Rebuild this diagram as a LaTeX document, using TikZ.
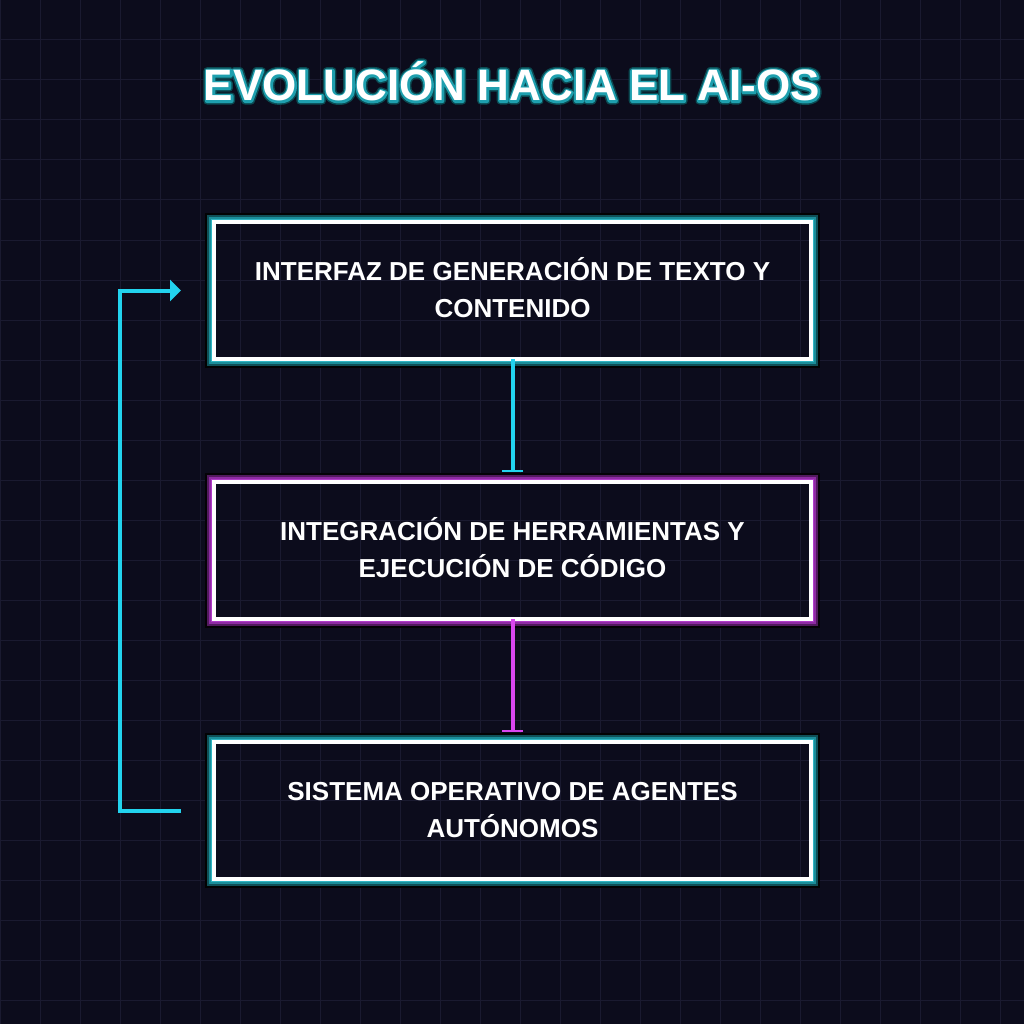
\documentclass[tikz,border=0pt]{standalone}
\usepackage{fontspec}
\setmainfont{Liberation Sans}
\usetikzlibrary{arrows.meta}
\definecolor{bg}{HTML}{0C0C1C}
\definecolor{gridc}{HTML}{1A1A30}
\definecolor{cyanc}{HTML}{22D3EE}
\definecolor{magc}{HTML}{D946EF}
\definecolor{tk}{HTML}{020304}
\definecolor{td}{HTML}{0F5058}
\definecolor{tm}{HTML}{1A8D99}
\definecolor{tl}{HTML}{30B5C3}
\definecolor{pk}{HTML}{040206}
\definecolor{pd}{HTML}{521A5E}
\definecolor{pm}{HTML}{8E2AA3}
\definecolor{pl}{HTML}{B03CC8}
\definecolor{titdark}{HTML}{0B4A52}
\definecolor{titmid}{HTML}{1E9FAE}
\newcommand\strokedtext[2]{\special{pdf:literal direct 1 Tr #1 w 1 j}#2\special{pdf:literal direct 0 Tr}}
\tikzset{
  gridline/.style={gridc, line width=1pt},
  box/.style={draw=white, line width=4pt, minimum width=597pt, minimum height=137pt, outer sep=0pt, inner sep=0pt},
  lbl/.style={text=white, font=\fontsize{26pt}{36.5pt}\selectfont\bfseries, align=center, inner sep=0pt},
  titlefont/.style={font=\fontsize{44pt}{48pt}\selectfont\bfseries, inner sep=0pt, anchor=base},
  conn/.style={line width=4pt},
}
\newcommand\boxtext[2]{\rule{0pt}{26pt}#1\\#2\rule[-8.6pt]{0pt}{8.6pt}}
\begin{document}
\begin{tikzpicture}[x=1pt,y=-1pt]
\fill[bg] (0,0) rectangle (1024,1024);
\useasboundingbox (0,0) rectangle (1024,1024);
\foreach \i in {0,40,...,1000} {
  \draw[gridline] (\i,0) -- (\i,1024);
  \draw[gridline] (0,\i) -- (1024,\i);
}
% title with glow (stroked copies beneath the filled text)
\node[titlefont, text=titdark] (tglow) at (512,101) {\strokedtext{7}{EVOLUCIÓN HACIA EL AI-OS}};
\node[titlefont, text=titmid] (tline) at (512,101) {\strokedtext{4}{EVOLUCIÓN HACIA EL AI-OS}};
\node[titlefont, text=white] (title) at (512,101) {EVOLUCIÓN HACIA EL AI-OS};
% boxes
\node[box] (b1) at (512.5,290.5) {};
\node[box] (b2) at (512.5,550.5) {};
\node[box] (b3) at (512.5,810.5) {};
\foreach \n/\p in {b1/t, b2/p, b3/t} {
  \foreach \d/\w/\c in {8.15/1.7/k, 6.3/2/d, 4.3/2/m, 2.65/1.3/l} {
    \draw[\p\c, line width=\w pt] ([shift={(-\d pt,\d pt)}]\n.north west) rectangle ([shift={(\d pt,-\d pt)}]\n.south east);
  }
}
\node[lbl] (l1) at (b1.center) {\boxtext{INTERFAZ DE GENERACIÓN DE TEXTO Y}{CONTENIDO}};
\node[lbl] (l2) at (b2.center) {\boxtext{INTEGRACIÓN DE HERRAMIENTAS Y}{EJECUCIÓN DE CÓDIGO}};
\node[lbl] (l3) at (b3.center) {\boxtext{SISTEMA OPERATIVO DE AGENTES}{AUTÓNOMOS}};
% connectors
\draw[conn, cyanc, -{Bar[width=21pt,line width=2.5pt]}] (b1.south) -- ([yshift=10pt]b2.north);
\draw[conn, magc, -{Bar[width=21pt,line width=2.5pt]}] (b2.south) -- ([yshift=10pt]b3.north);
\coordinate (fs) at ([xshift=-33pt]b3.west);
\coordinate (fe) at ([xshift=-33pt]b1.west);
\draw[conn, cyanc, -{Triangle[length=11pt,width=21pt]}] (fs) -- ++(-61,0) |- (fe);
\end{tikzpicture}
\end{document}
